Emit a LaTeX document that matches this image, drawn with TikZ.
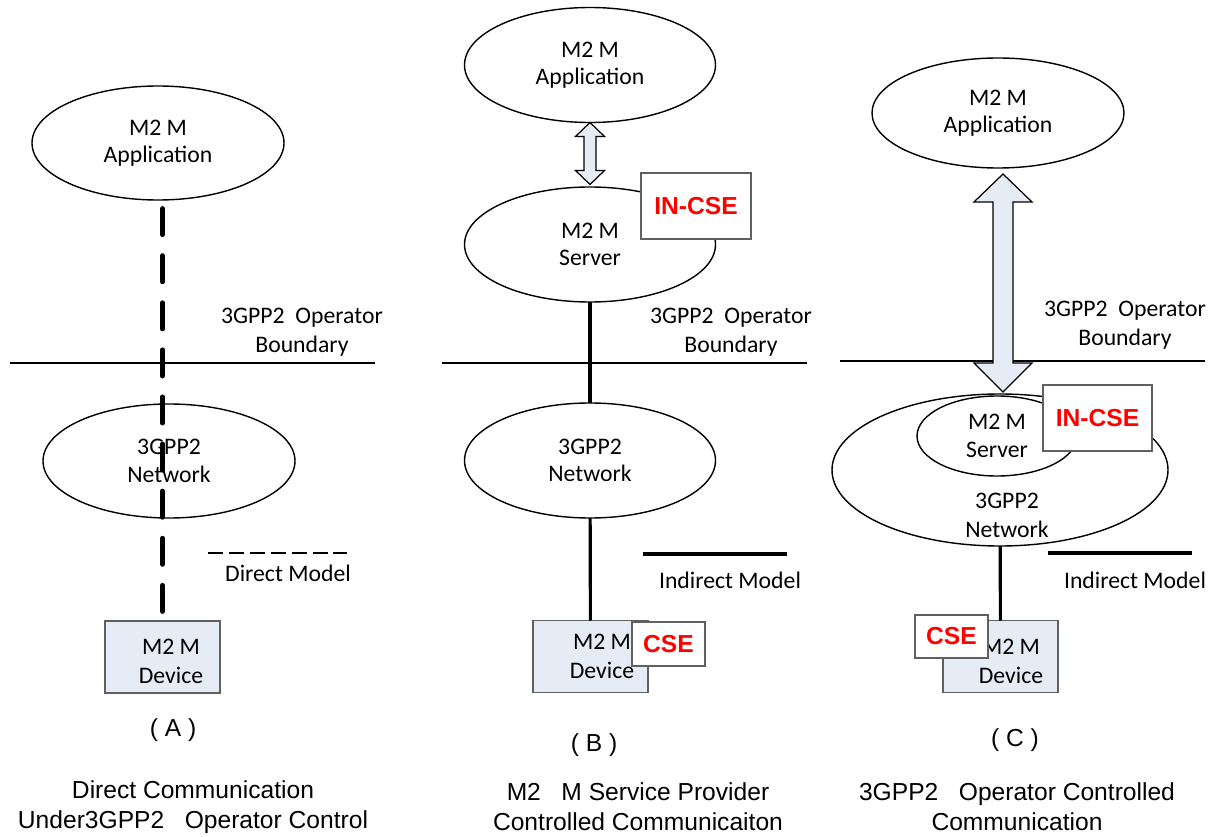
\documentclass[tikz,border=0pt]{standalone}
\usepackage{fontspec}
\setmainfont{Carlito}
\newfontfamily\arialfont{Liberation Sans}
\usepackage{xcolor}
\usetikzlibrary{shapes.geometric}

\definecolor{devblue}{RGB}{230,236,246}
\definecolor{edgegray}{RGB}{96,96,96}

\tikzset{
  blob/.style={draw, ellipse, line width=0.8pt, inner sep=0pt, outer sep=0pt, align=center, font=\fontsize{13.5}{15.5}\selectfont},
  devbox/.style={draw=edgegray, fill=devblue, line width=0.9pt, minimum width=23mm, minimum height=14.4mm, inner sep=0pt, outer sep=0pt},
  csebox/.style={draw=edgegray, fill=white, line width=0.9pt, inner sep=0pt, outer sep=0pt, text=red, font=\arialfont\bfseries\fontsize{14}{16}\selectfont},
  lbl/.style={align=center, font=\fontsize{13.5}{16.5}\selectfont},
  caption/.style={align=center, font=\arialfont\fontsize{14}{17}\selectfont},
  link/.style={line width=1.8pt},
  border/.style={line width=0.8pt},
  directlink/.style={line width=2.85pt, line cap=round, dash pattern=on 14.8pt off 12pt, dash phase=21.9pt},
  fatarrow/.style={draw, fill=devblue, line width=0.7pt, line join=miter}
}

\begin{document}
\begin{tikzpicture}[x=0.2mm, y=-0.2mm]
    \useasboundingbox (0,0) rectangle (1225,837);
    % -------------------------
    % (A) Direct Model
    % -------------------------
    \node[blob, minimum width=50.4mm, minimum height=22.8mm] (aapp) at (158,143) {M2 M\\Application};
    \node[blob, minimum width=50.4mm, minimum height=22.8mm] (anet) at (169,461) {3GPP2\\Network};
    \node[devbox] (adev) at (162.5,657) {};
    \node[lbl] (adevtxt) at (171,661) {M2 M\\Device};

    % Boundary
    \draw[border] (10,363) -- (375,363);
    \node[lbl] (abound) at (302,332) {3GPP2\ \ Operator\\Boundary};

    % Direct link straight through the network
    \draw[directlink] (adev.north |- aapp.south) -- (adev.north);

    % Legend
    \draw[line width=1.1pt, dash pattern=on 8.5pt off 3.4pt] (208,553) -- (347,553);
    \node[lbl] (adirect) at (288,573) {Direct Model};

    \node[caption] (acap) at (173,730) {( A )};
    \node[caption] (atitle) at (193,807) {Direct Communication\\Under3GPP2\ \ \ Operator Control};

    % -------------------------
    % (B) Indirect Model, server outside
    % -------------------------
    \node[blob, minimum width=50.2mm, minimum height=23mm] (bapp) at (590,65) {M2 M\\Application};
    \node[blob, minimum width=50.2mm, minimum height=23mm] (bsrv) at (590,244.5) {M2 M\\Server};
    \node[csebox, minimum width=22mm, minimum height=13.2mm] (bincse) at (696,206) {IN-CSE};
    \draw[fatarrow] (bapp.south) -- ++(14.5,14) -- ++(-8.5,0) -- ++(0,34) -- ++(8.5,0) -- ++(-14.5,14)
        -- ++(-14.5,-14) -- ++(8.5,0) -- ++(0,-34) -- ++(-8.5,0) -- cycle;

    % Boundary
    \draw[border] (442,363) -- (807,363);
    \node[lbl] (bbound) at (731,332) {3GPP2\ \ Operator\\Boundary};

    \node[blob, minimum width=50.2mm, minimum height=23mm] (bnet) at (590,460.5) {3GPP2\\Network};
    \node[devbox] (bdev) at (590.5,656.5) {};
    \node[lbl] (bdevtxt) at (602,656) {M2 M\\Device};
    \node[csebox, minimum width=14.6mm, minimum height=8.8mm] (bcse) at (668.5,644) {CSE};

    \draw[link] (bsrv) -- (bnet);
    \draw[link] (bnet) -- (bdev);

    % Legend
    \draw[link] (643,554) -- (787,554);
    \node[lbl] (bindirect) at (730,580) {Indirect Model};

    \node[caption] (bcap) at (594,745) {( B )};
    \node[caption] (btitle) at (638,807) {M2\ \ \ M Service Provider\\Controlled Communicaiton};

    % -------------------------
    % (C) Indirect Model, server inside
    % -------------------------
    \node[blob, minimum width=50.4mm, minimum height=22mm] (capp) at (998,113) {M2 M\\Application};

    % Boundary
    \draw[border] (840,361) -- (1205,361);
    \node[lbl] (cbound) at (1125,325) {3GPP2\ \ Operator\\Boundary};

    \draw[fatarrow] (capp.south) ++(5,6) -- ++(29,28) -- ++(-19,0) -- ++(0,161) -- ++(19,0) -- ++(-29,29)
        -- ++(-29,-29) -- ++(19,0) -- ++(0,-161) -- ++(-19,0) -- cycle;

    \node[blob, minimum width=67.2mm, minimum height=30.4mm] (cnet) at (1000,470) {};
    \node[blob, minimum width=32mm, minimum height=16mm] (csrv) at (997,436) {M2 M\\Server};
    \node[lbl] (cnettxt) at (1007,515) {3GPP2\\Network};
    \node[csebox, minimum width=21.8mm, minimum height=13.2mm] (cincse) at (1097.5,418) {IN-CSE};

    \node[devbox] (cdev) at (1000.5,656.5) {};
    \node[lbl] (cdevtxt) at (1011,661) {M2 M\\Device};
    \node[csebox, minimum width=14.6mm, minimum height=8.6mm] (ccse) at (951.5,636.5) {CSE};

    \draw[link] (cnet) -- (cdev);

    % Legend
    \draw[link] (1048,553) -- (1192,553);
    \node[lbl] (cindirect) at (1135,580) {Indirect Model};

    \node[caption] (ccap) at (1015,740) {( C )};
    \node[caption] (ctitle) at (1017,807) {3GPP2\ \ \ Operator Controlled\\Communication};

\end{tikzpicture}
\end{document}
